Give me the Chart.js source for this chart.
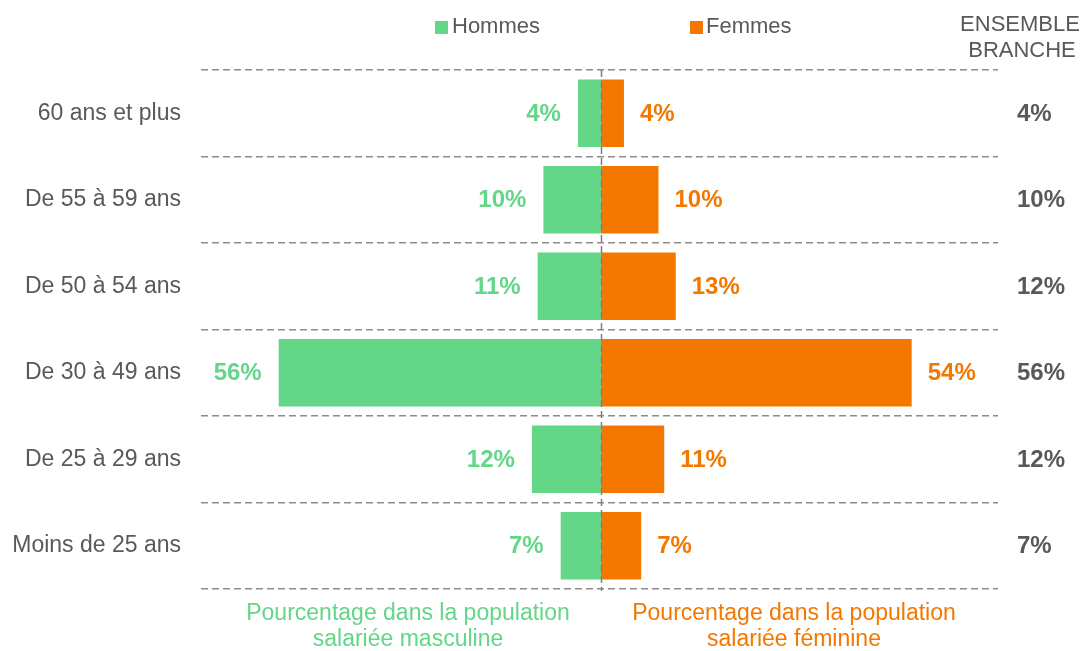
<!DOCTYPE html>
<html>
<head>
<meta charset="utf-8">
<script src="https://cdn.jsdelivr.net/npm/chart.js@4"></script>
<style>
  html, body { margin: 0; padding: 0; background: #fff; }
  #wrap { width: 1086px; height: 651px; }
</style>
</head>
<body>
<div id="wrap"><canvas id="Chart1"></canvas></div>
<script>
var ages = ["60 ans et plus", "De 55 à 59 ans", "De 50 à 54 ans", "De 30 à 49 ans", "De 25 à 29 ans", "Moins de 25 ans"];
var hommes = [4, 10, 11, 56, 12, 7];
var femmes = [4, 10, 13, 54, 11, 7];
var ensemble = [4, 10, 12, 56, 12, 7];

var green = "#63d687";
var orange = "#f47800";
var grey = "#595959";
var dashGrey = "#8c8c8c";
var font = "'Liberation Sans', Arial, sans-serif";

var labelsPlugin = {
  id: 'labels',
  afterDatasetsDraw: function(chart) {
    var c = chart.ctx;
    var area = chart.chartArea;
    var xs = chart.scales.x;
    var ys = chart.scales.y;
    c.save();

    // axe central en pointillés, par-dessus les barres
    var x0 = Math.round(xs.getPixelForValue(0)) + 0.5;
    c.strokeStyle = '#7f7f7f';
    c.lineWidth = 1.5;
    c.setLineDash([7, 4]);
    c.beginPath();
    c.moveTo(x0, area.top);
    c.lineTo(x0, area.bottom + 2);
    c.stroke();
    c.setLineDash([]);

    c.textBaseline = 'middle';
    c.font = 'bold 24px ' + font;

    // valeurs hommes / femmes
    chart.getDatasetMeta(0).data.forEach(function(bar, i) {
      c.fillStyle = green;
      c.textAlign = 'right';
      c.fillText(hommes[i] + '%', bar.x - 17, bar.y + 1);
    });
    chart.getDatasetMeta(1).data.forEach(function(bar, i) {
      c.fillStyle = orange;
      c.textAlign = 'left';
      c.fillText(femmes[i] + '%', bar.x + 16, bar.y + 1);
    });

    // colonne ensemble branche
    c.fillStyle = grey;
    c.textAlign = 'left';
    ensemble.forEach(function(v, i) {
      c.fillText(v + '%', 1017, ys.getPixelForValue(i) + 1);
    });

    c.font = '22px ' + font;
    c.textAlign = 'center';
    c.fillText('ENSEMBLE', 1020, 25);
    c.fillText('BRANCHE', 1022, 51);

    // legende
    c.textAlign = 'left';
    c.fillStyle = green;
    c.fillRect(435, 21, 13, 13);
    c.fillStyle = grey;
    c.fillText('Hommes', 452, 27);
    c.fillStyle = orange;
    c.fillRect(690, 21, 13, 13);
    c.fillStyle = grey;
    c.fillText('Femmes', 706, 27);

    // titres du bas
    c.font = '23px ' + font;
    c.textAlign = 'center';
    c.fillStyle = green;
    c.fillText('Pourcentage dans la population', 408, 614);
    c.fillText('salariée masculine', 408, 640);
    c.fillStyle = orange;
    c.fillText('Pourcentage dans la population', 794, 614);
    c.fillText('salariée féminine', 794, 640);
    c.restore();
  }
};

var ctx1 = document.getElementById("Chart1").getContext('2d');

var Chart1 = new Chart(ctx1, {
  type: 'bar',
  data: {
    labels: ages,
    datasets: [{
      label: 'Hommes',
      backgroundColor: green,
      data: hommes.map(function(v) { return -v; })
    }, {
      label: 'Femmes',
      backgroundColor: orange,
      data: femmes
    }]
  },
  options: {
    indexAxis: 'y',
    responsive: true,
    maintainAspectRatio: false,
    animation: false,
    layout: { padding: { top: 70, bottom: 62, right: 88, left: 0 } },
    datasets: { bar: { categoryPercentage: 0.78, barPercentage: 1 } },
    plugins: { legend: { display: false }, tooltip: { enabled: false } },
    scales: {
      x: {
        stacked: true,
        min: -69.5,
        max: 69,
        ticks: { display: false },
        grid: { display: false },
        border: { display: false },
        afterFit: function(s) { s.height = 0; }
      },
      y: {
        stacked: true,
        grid: { offset: true, drawTicks: false, color: dashGrey, lineWidth: 1.5 },
        border: { display: false, dash: [7, 4] },
        ticks: { color: grey, padding: 20, font: { size: 23, family: font } },
        afterFit: function(s) { s.width = 201; }
      }
    }
  },
  plugins: [labelsPlugin]
});
</script>
</body>
</html>
